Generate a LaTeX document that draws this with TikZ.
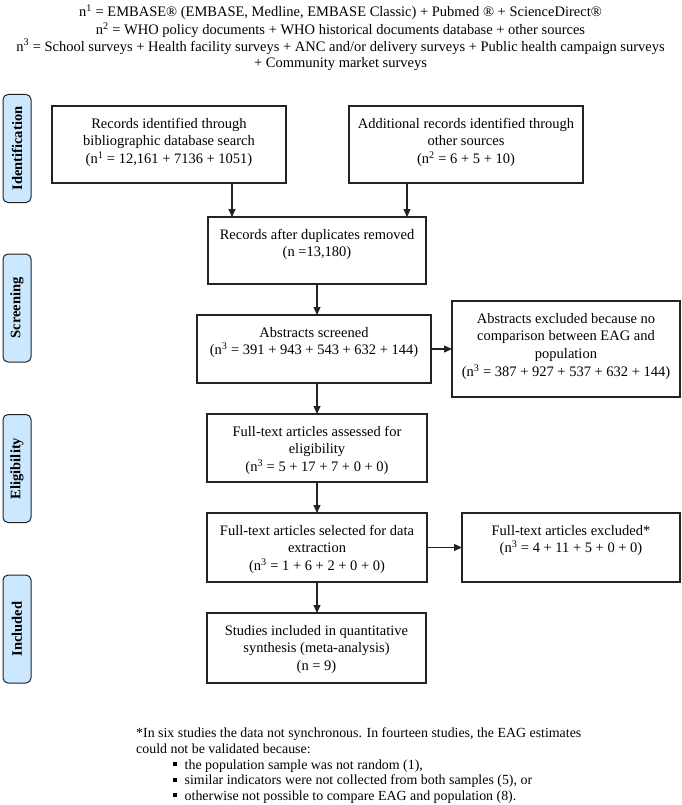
\documentclass[tikz,border=0pt]{standalone}
\usepackage{fontspec}
\setmainfont{Liberation Serif}
\usetikzlibrary{arrows.meta}
\definecolor{lblue}{RGB}{204,232,255}
\definecolor{lnc}{RGB}{35,35,35}
\newcommand{\bx}{\fontsize{14.5}{17.7}\selectfont}
\newcommand{\fn}{\fontsize{13.9}{16}\selectfont}
\newcommand{\sq}{\rule[2.8pt]{4pt}{4pt}\hspace{7.5pt}}
\begin{document}
\begin{tikzpicture}[x=1pt,y=-1pt,
  box/.style={draw=lnc, line width=1.1pt, inner sep=0pt, outer sep=0pt},
  txt/.style={anchor=north, align=center, inner sep=0pt, font=\bx},
  side/.style={draw=lnc, line width=1pt, fill=lblue, rounded corners=5pt,
    rotate=90, minimum width=108pt, minimum height=28pt, inner sep=0pt,
    font=\bx\bfseries},
  arr/.style={draw=lnc, line width=1.1pt, -{Triangle[length=8pt,width=7pt]}},
  foot/.style={anchor=base west, inner sep=0pt, font=\fn}]
\useasboundingbox (0,0) rectangle (681,805);

% header
\node[txt, font=\fontsize{14.5}{16.6}\selectfont] (head) at (340.5,4.5)
 {\strut n\textsuperscript{1} = EMBASE® (EMBASE, Medline, EMBASE Classic) + Pubmed ® + ScienceDirect®\\
  n\textsuperscript{2} = WHO policy documents + WHO historical documents database + other sources\\
  n\textsuperscript{3} = School surveys + Health facility surveys + ANC and/or delivery surveys + Public health campaign surveys\\
  + Community market surveys};

% side labels
\node[side] (lid) at (17,148.5) {Identification};
\node[side] (lsc) at (17,308) {Screening};
\node[side] (lel) at (17,468.5) {Eligibility};
\node[side] (lin) at (17,629) {Included};

% boxes
\node[box, minimum width=234pt, minimum height=77pt] (b1) at (169,144.5) {};
\node[box, minimum width=234pt, minimum height=77pt] (b2) at (466,144.5) {};
\node[box, minimum width=218pt, minimum height=67pt] (b3) at (317,250.5) {};
\node[box, minimum width=234pt, minimum height=68pt] (b4) at (314,349) {};
\node[box, minimum width=228pt, minimum height=96pt] (b5) at (566,349) {};
\node[box, minimum width=220pt, minimum height=68pt] (b6) at (317,448) {};
\node[box, minimum width=220pt, minimum height=69pt] (b7) at (317,547.5) {};
\node[box, minimum width=218pt, minimum height=69pt] (b8) at (571,547.5) {};
\node[box, minimum width=219pt, minimum height=70pt] (b9) at (316.5,648) {};

% box texts
\node[txt] (t1) at (169,115.6) {\strut Records identified through\\bibliographic database search\\(n\textsuperscript{1} = 12,161 + 7136 + 1051)};
\node[txt] (t2) at (466,115.6) {\strut Additional records identified through\\other sources\\(n\textsuperscript{2} = 6 + 5 + 10)};
\node[txt] (t3) at (317,226.6) {\strut Records after duplicates removed\\(n =13,180)};
\node[txt] (t4) at (314,324.6) {\strut Abstracts screened\\(n\textsuperscript{3} = 391 + 943 + 543 + 632 + 144)};
\node[txt] (t5) at (566,310.6) {\strut Abstracts excluded because no\\comparison between EAG and\\population\\(n\textsuperscript{3} = 387 + 927 + 537 + 632 + 144)};
\node[txt] (t6) at (317,423.6) {\strut Full-text articles assessed for\\eligibility\\(n\textsuperscript{3} = 5 + 17 + 7 + 0 + 0)};
\node[txt] (t7) at (317,522.6) {\strut Full-text articles selected for data\\extraction\\(n\textsuperscript{3} = 1 + 6 + 2 + 0 + 0)};
\node[txt] (t8) at (571,522.6) {\strut Full-text articles excluded*\\(n\textsuperscript{3} = 4 + 11 + 5 + 0 + 0)};
\node[txt] (t9) at (316.5,622.6) {\strut Studies included in quantitative\\synthesis (meta-analysis)\\(n = 9)};

% connectors
\coordinate (a1) at (232,0);
\coordinate (a2) at (407,0);
\coordinate (a3) at (317,0);
\draw[arr] (b1.south -| a1) -- (b3.north -| a1);
\draw[arr] (b2.south -| a2) -- (b3.north -| a2);
\draw[arr] (b3.south -| a3) -- (b4.north -| a3);
\draw[arr] (b4.east) -- (b5.west);
\draw[arr] (b4.south -| a3) -- (b6.north -| a3);
\draw[arr] (b6.south -| a3) -- (b7.north -| a3);
\draw[arr] (b7.east) -- (b8.west);
\draw[arr] (b7.south -| a3) -- (b9.north -| a3);

% footnote
\node[foot] (f1) at (136,737.5) {*In six studies the data not synchronous. In fourteen studies, the EAG estimates};
\node[foot] (f2) at (136,753.5) {could not be validated because:};
\node[foot] (f3) at (173,769) {\sq the population sample was not random (1),};
\node[foot] (f4) at (173,784.5) {\sq similar indicators were not collected from both samples (5), or};
\node[foot] (f5) at (173,800) {\sq otherwise not possible to compare EAG and population (8).};
\end{tikzpicture}
\end{document}
